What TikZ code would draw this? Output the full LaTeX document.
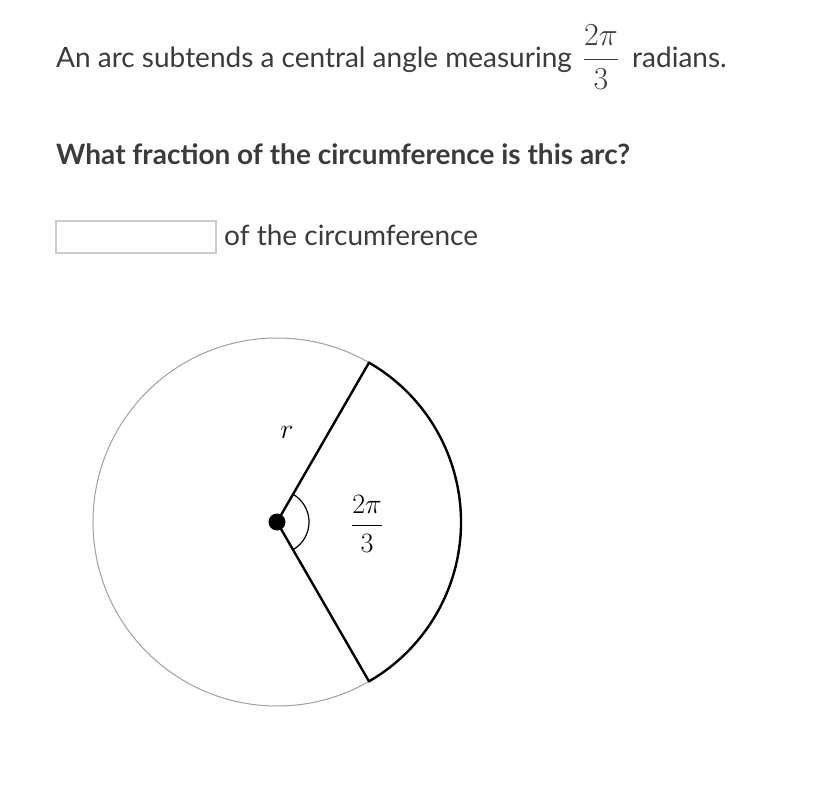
\RequirePackage{fix-cm}
\documentclass[tikz,border=0pt]{standalone}
\usepackage{amsmath}
\usepackage{fontspec}
\setmainfont{Lato}
\usetikzlibrary{positioning,calc}
\definecolor{inktext}{HTML}{3B3B3B}
\definecolor{rimgray}{HTML}{A0A0A0}
\definecolor{boxgray}{HTML}{CCCCCC}

\begin{document}
\begin{tikzpicture}[x=1pt,y=-1pt,
    qtext/.style={anchor=base west, text=inktext, font=\fontsize{28}{32}\selectfont},
    ansbox/.style={draw=boxgray, line width=1.5pt, minimum width=160pt, minimum height=32pt},
    sector/.style={line width=2.4pt, line join=round}]
      \tikzstyle{every node}+=[inner sep=0pt]
      \useasboundingbox (0,0) rectangle (814,800);
      \node[qtext] (stem) at (56,67) {An arc subtends a central angle measuring};
      \node[text=inktext, font=\fontsize{32}{36}\selectfont] (frac) at (601,57) {$\dfrac{2\pi}{3}$};
      \node[qtext] (unit) at (632,67) {radians.};
      \node[qtext, font=\fontsize{28}{32}\selectfont\bfseries] (ask) at (56,164) {What fraction of the circumference is this arc?};
      \node[ansbox] (ans) at (136,237) {};
      \node[qtext] (tail) at (224,245) {of the circumference};
      \coordinate (O) at (277,522);
      \coordinate (A) at ($(O)+(60:184)$);
      \coordinate (B) at ($(O)+(-60:184)$);
      \draw [rimgray, line width=1pt] (O) circle (184);
      \draw [sector] (A) -- (O) -- (B) arc (-60:60:184) -- cycle;
      \draw [line width=1.2pt] ($(O)+(-60:32)$) arc (-60:60:32);
      \fill [black] (O) circle (8.5);
      \node[font=\fontsize{28}{32}\selectfont] (rlab) at (287,432) {$r$};
      \node[font=\fontsize{28}{32}\selectfont] (angle) at (367,524) {$\dfrac{2\pi}{3}$};
\end{tikzpicture}
\end{document}
